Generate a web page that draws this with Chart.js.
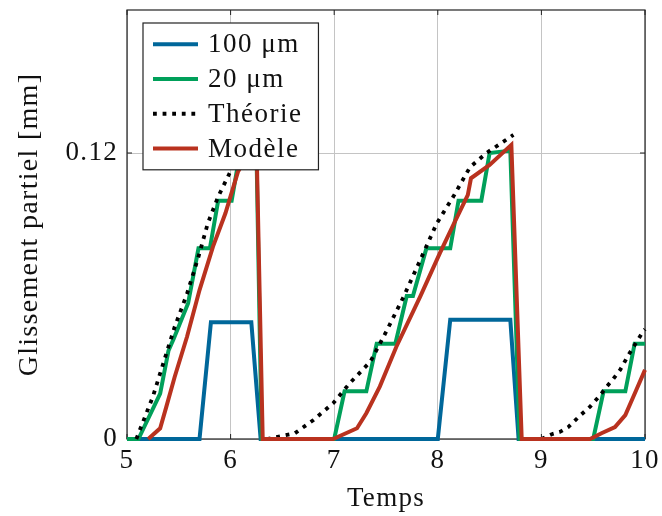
<!DOCTYPE html>
<html>
<head>
<meta charset="utf-8">
<script src="https://cdn.jsdelivr.net/npm/chart.js@4/dist/chart.umd.min.js"></script>
<style>
html,body{margin:0;padding:0;background:#fff;}
#wrap{width:662px;height:516px;}
</style>
</head>
<body>
<div id="wrap"><canvas id="c" width="662" height="516"></canvas></div>
<script>
// ---- data ----
const xTicks = [5, 6, 7, 8, 9, 10];
const yTicks = [0, 0.12];
const yTickLabels = ['0', '0.12'];
const seriesLabels = ['100 μm', '20 μm', 'Théorie', 'Modèle'];

const t100 = [5.0, 5.70, 5.81, 6.20, 6.29, 8.00, 8.12, 8.70, 8.78, 10.0];
const s100 = [0, 0, 0.049, 0.049, 0, 0, 0.050, 0.050, 0, 0];

const t20 = [5.0, 5.11, 5.32, 5.40, 5.45, 5.59, 5.69, 5.80, 5.88, 6.01, 6.09, 6.25, 6.30,
             7.00, 7.10, 7.31, 7.41, 7.59, 7.70, 7.76, 7.89, 8.12, 8.20, 8.42, 8.50, 8.70, 8.79,
             9.50, 9.60, 9.81, 9.90, 10.0];
const s20 = [0, 0, 0.019, 0.037, 0.042, 0.057, 0.080, 0.080, 0.100, 0.100, 0.120, 0.120, 0,
             0, 0.020, 0.020, 0.040, 0.040, 0.060, 0.060, 0.080, 0.080, 0.100, 0.100, 0.120, 0.121, 0,
             0, 0.020, 0.020, 0.040, 0.040];

const tTheo = [5.09, 5.25, 5.37, 5.46, 5.58, 5.69, 5.78, 5.88, 5.99, 6.12, 6.25, 6.30,
               6.35, 6.62, 6.80, 6.99, 7.15, 7.35, 7.51, 7.67, 7.83, 7.99, 8.15, 8.31, 8.47, 8.73, 8.85,
               9.00, 9.10, 9.18, 9.26, 9.37, 9.47, 9.57, 9.63, 9.69, 9.76, 9.84, 9.90, 9.98, 10.0];
const sTheo = [0, 0.0178, 0.0345, 0.047, 0.061, 0.0765, 0.0905, 0.1017, 0.1115, 0.123, 0.133, null,
               0, 0.0024, 0.008, 0.015, 0.0234, 0.0325, 0.0457, 0.0597, 0.075, 0.0905, 0.1017, 0.114, 0.120, 0.1276, null,
               0, 0.002, 0.003, 0.005, 0.0097, 0.0136, 0.0185, 0.022, 0.025, 0.029, 0.0352, 0.0394, 0.045, 0.046];

const tMod = [5.205, 5.32, 5.38, 5.46, 5.58, 5.70, 5.83, 5.95, 6.07, 6.16, 6.25, 6.31,
              6.99, 7.22, 7.31, 7.44, 7.60, 7.83, 8.02, 8.15, 8.29, 8.32, 8.50, 8.71, 8.81,
              9.47, 9.58, 9.71, 9.81, 9.90, 10.0];
const sMod = [0, 0.0045, 0.0136, 0.026, 0.043, 0.0625, 0.0807, 0.0947, 0.112, 0.119, 0.124, 0,
              0, 0.0045, 0.0108, 0.022, 0.0387, 0.0597, 0.078, 0.0898, 0.1024, 0.1094, 0.115, 0.1234, 0,
              0, 0.0024, 0.005, 0.010, 0.019, 0.029];

const pts = (t, s) => t.map((x, i) => ({x: x, y: s[i]}));

const FONT = "'Liberation Serif', 'DejaVu Serif', serif";
const FS = 27;
const BLUE = '#00679a', GREEN = '#00a05a', RED = '#b9321f';

const framePlugin = {
  id: 'frame',
  beforeDraw(chart) {
    chart.ctx.letterSpacing = '1.3px';
  },
  beforeDatasetsDraw(chart) {
    const {ctx, chartArea: a, scales} = chart;
    ctx.save();
    ctx.strokeStyle = '#222';
    ctx.lineWidth = 1.2;
    ctx.strokeRect(a.left, a.top, a.right - a.left, a.bottom - a.top);
    ctx.lineWidth = 1;
    ctx.beginPath();
    xTicks.forEach(v => {
      const px = scales.x.getPixelForValue(v);
      ctx.moveTo(px, a.bottom); ctx.lineTo(px, a.bottom - 5);
      ctx.moveTo(px, a.top); ctx.lineTo(px, a.top + 5);
    });
    yTicks.forEach(v => {
      const py = scales.y.getPixelForValue(v);
      ctx.moveTo(a.left, py); ctx.lineTo(a.left + 5, py);
      ctx.moveTo(a.right, py); ctx.lineTo(a.right - 5, py);
    });
    ctx.stroke();
    ctx.restore();
  },
  afterDraw(chart) {
    const {ctx, chartArea: a} = chart;
    const ds = chart.data.datasets;
    ctx.save();
    ctx.letterSpacing = '1.5px';
    ctx.font = FS + 'px ' + FONT;
    let maxW = 0;
    ds.forEach(d => { maxW = Math.max(maxW, ctx.measureText(d.label).width); });
    const rowH = 34.7, padL = 10, sample = 45, gap = 10, padR = 16;
    const x0 = a.left + 16, y0 = a.top + 13;
    const w = padL + sample + gap + maxW + padR;
    const h = ds.length * rowH + 8;
    ctx.fillStyle = '#fff';
    ctx.fillRect(x0, y0, w, h);
    ctx.strokeStyle = '#222';
    ctx.lineWidth = 1.2;
    ctx.strokeRect(x0, y0, w, h);
    ds.forEach((d, i) => {
      const cy = y0 + 4 + rowH * (i + 0.5);
      ctx.beginPath();
      ctx.strokeStyle = d.borderColor;
      ctx.lineWidth = d.borderWidth;
      ctx.setLineDash(d.borderDash || []);
      ctx.moveTo(x0 + padL, cy); ctx.lineTo(x0 + padL + sample, cy);
      ctx.stroke();
      ctx.setLineDash([]);
      ctx.fillStyle = '#111';
      ctx.textBaseline = 'middle';
      ctx.textAlign = 'left';
      ctx.fillText(d.label, x0 + padL + sample + gap, cy + 1);
    });
    ctx.restore();
  }
};

new Chart(document.getElementById('c'), {
  type: 'line',
  data: {
    datasets: [
      {label: seriesLabels[0], data: pts(t100, s100), borderColor: BLUE, borderWidth: 4, order: 4},
      {label: seriesLabels[1], data: pts(t20, s20), borderColor: GREEN, borderWidth: 4, order: 3},
      {label: seriesLabels[2], data: pts(tTheo, sTheo), borderColor: '#000', borderWidth: 3.8, borderDash: [3.8, 5.8], order: 2, spanGaps: false},
      {label: seriesLabels[3], data: pts(tMod, sMod), borderColor: RED, borderWidth: 4, order: 1}
    ]
  },
  options: {
    responsive: false,
    animation: false,
    events: [],
    elements: {point: {radius: 0}, line: {tension: 0, borderCapStyle: 'butt', borderJoinStyle: 'miter', fill: false}},
    datasets: {line: {clip: false}},
    layout: {padding: {top: 10, right: 17, left: 0, bottom: 0}},
    plugins: {legend: {display: false}, tooltip: {enabled: false}},
    scales: {
      x: {
        type: 'linear', min: 5, max: 10,
        afterBuildTicks: s => { s.ticks = xTicks.map(v => ({value: v})); },
        afterFit: s => { s.height = 77; s.paddingLeft = 0; s.paddingRight = 0; },
        ticks: {color: '#111', font: {family: FONT, size: FS}, padding: 6, callback: v => String(v), maxRotation: 0, autoSkip: false},
        grid: {color: '#c4c4c4', lineWidth: 1, drawTicks: false},
        border: {display: false},
        title: {display: true, text: 'Temps', color: '#111', font: {family: FONT, size: FS}, padding: {top: 0, bottom: 1}}
      },
      y: {
        type: 'linear', min: 0, max: 0.18,
        afterBuildTicks: s => { s.ticks = yTicks.map(v => ({value: v})); },
        afterFit: s => { s.width = 127; s.paddingTop = 0; s.paddingBottom = 0; },
        ticks: {color: '#111', font: {family: FONT, size: FS}, padding: 9,
                callback: (v) => { const i = yTicks.indexOf(v); return i >= 0 ? yTickLabels[i] : ''; }},
        grid: {color: '#c4c4c4', lineWidth: 1, drawTicks: false},
        border: {display: false},
        title: {display: true, text: 'Glissement partiel [mm]', color: '#111', font: {family: FONT, size: 28}, padding: {top: 13, bottom: 0}}
      }
    }
  },
  plugins: [framePlugin]
});
</script>
</body>
</html>
